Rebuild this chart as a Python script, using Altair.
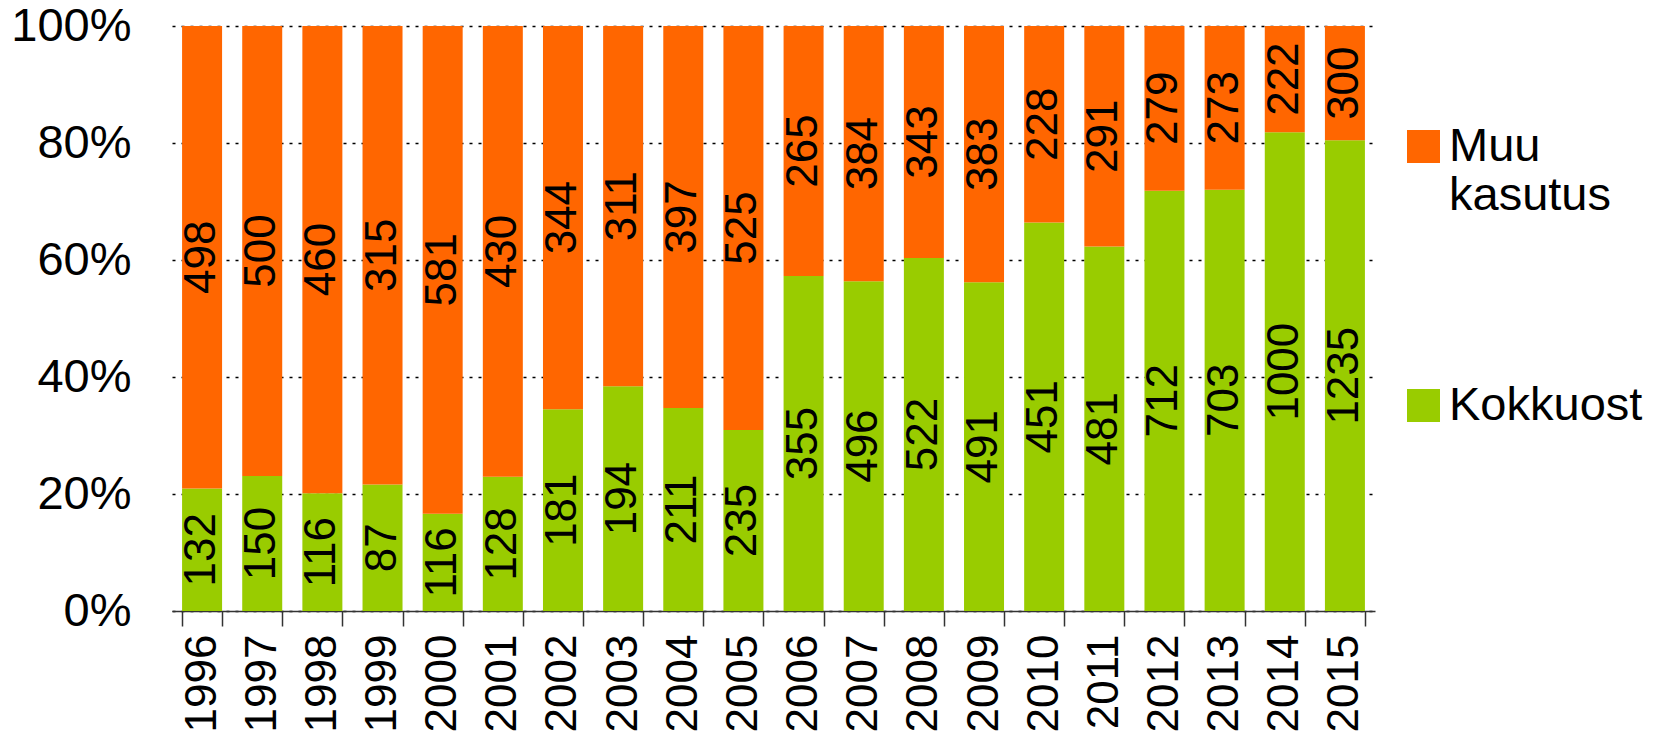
import altair as alt
import pandas as pd

years = [str(y) for y in range(1996, 2016)]
kokkuost = [132, 150, 116, 87, 116, 128, 181, 194, 211, 235, 355, 496, 522, 491, 451, 481, 712, 703, 1000, 1235]
muu = [498, 500, 460, 315, 581, 430, 344, 311, 397, 525, 265, 384, 343, 383, 228, 291, 279, 273, 222, 300]
series_names = ["Muu kasutus", "Kokkuost"]
series_colors = ["#FF6600", "#99CC00"]

rows = []
for i, yr in enumerate(years):
    rows.append({"year": yr, "series": "Kokkuost", "ord": 0, "value": kokkuost[i]})
    rows.append({"year": yr, "series": "Muu kasutus", "ord": 1, "value": muu[i]})
df = pd.DataFrame(rows)

FONT = "Liberation Sans"

base = alt.Chart(df).transform_stack(
    stack="value", groupby=["year"], as_=["v0", "v1"], offset="normalize",
    sort=[alt.SortField("ord", order="ascending")]
).transform_calculate(mid="(datum.v0 + datum.v1) / 2")

xenc = alt.X(
    "year:N", title=None,
    scale=alt.Scale(paddingInner=0.335, paddingOuter=0.1675),
    axis=alt.Axis(
        labelAngle=270, labelAlign="right", labelBaseline="middle",
        labelFontSize=44, labelFont=FONT, labelColor="black", labelPadding=8,
        tickBand="extent", tickSize=15, tickColor="#333333", tickWidth=1.5,
        domainColor="#333333", domainWidth=1.5, grid=False,
    ),
)

bars = base.mark_bar().encode(
    x=xenc,
    y=alt.Y(
        "v0:Q", title=None, scale=alt.Scale(domain=[0, 1], nice=False),
        axis=alt.Axis(
            format=".0%", values=[0, 0.2, 0.4, 0.6, 0.8, 1.0],
            labelFontSize=47, labelFont=FONT, labelColor="black", labelPadding=41,
            domain=False, ticks=False, grid=True, gridColor="black",
            gridDash=[3, 6], gridWidth=1.5,
        ),
    ),
    y2="v1:Q",
    color=alt.Color(
        "series:N",
        scale=alt.Scale(domain=series_names, range=series_colors),
        legend=alt.Legend(
            orient="none", legendX=1228, legendY=97, title=None,
            labelFontSize=47, labelFont=FONT, labelColor="black",
            labelExpr="datum.label == 'Muu kasutus' ? ['Muu', 'kasutus'] : datum.label",
            labelBaseline="middle", labelOffset=2, labelLimit=400,
            symbolType="square", symbolSize=1089,
            symbolStrokeWidth=0, symbolOpacity=1, rowPadding=162,
        ),
    ),
)

labels = base.mark_text(
    angle=270, fontSize=44, font=FONT, color="black", align="center", baseline="middle"
).encode(
    x=alt.X("year:N"),
    y=alt.Y("mid:Q"),
    text=alt.Text("value:Q"),
)

chart = alt.layer(bars, labels).properties(
    width=1203, height=585,
    autosize=alt.AutoSizeParams(type="none"),
    padding={"left": 164, "top": 18, "right": 282, "bottom": 122},
).configure_view(stroke=None)

chart.save("out.html", embed_options={"renderer": "svg", "actions": False})
